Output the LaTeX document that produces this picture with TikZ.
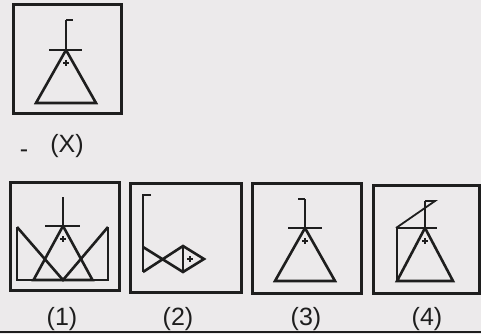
\documentclass[tikz,border=0pt]{standalone}
\usepackage{fontspec}
\setmainfont{Liberation Sans}
\usepackage{xcolor,tikz}
\definecolor{inkLine}{HTML}{1E1E1E}
\definecolor{paperBg}{HTML}{ECEAEB}
\tikzset{
  framebox/.style={draw=inkLine, line width=3pt},
  figline/.style={draw=inkLine, line width=2.6pt, line join=miter},
  stemline/.style={draw=inkLine, line width=1.8pt},
  plusline/.style={draw=inkLine, line width=1.3pt},
  optlabel/.style={font=\fontsize{25}{28}\selectfont, text=inkLine, inner sep=0pt}
}

\begin{document}
\begin{tikzpicture}[x=1pt, y=-1pt]

% --- CANVAS ---
\fill[paperBg] (0,0) rectangle (481,334);
\useasboundingbox (0,0) rectangle (481,334);

% --- FRAMES (x1/y1/x2/y2) ---
\foreach \xa/\ya/\xb/\yb in {13/5/121/113, 10/182/119/290, 130/183/241/292,
                             252/183/361/293, 373/185/479/293} {
  \draw[framebox] (\xa,\ya) rectangle (\xb,\yb);
}

% --- TRIANGLE + STEM + BAR (apex x/apex y/base y/half width/stem top/bar left/bar right) ---
\foreach \ax/\ay/\by/\hw/\st/\bl/\br in {66/50/103/30/20/49/82,
                                          63/226/280/29.5/197/45/80,
                                          305/228/281/30/199/288/322,
                                          425/228/281/28/201/397/437} {
  \draw[figline] (\ax,\ay) -- (\ax+\hw,\by) -- (\ax-\hw,\by) -- cycle;
  \draw[stemline] (\ax,\st) -- (\ax,\ay);
  \draw[stemline] (\bl,\ay) -- (\br,\ay);
  \draw[plusline] (\ax-3,\ay+13) -- (\ax+3,\ay+13) (\ax,\ay+10) -- (\ax,\ay+16);
}

% --- (X) tick ---
\draw[stemline] (66,20) -- (73,20);

% --- (1) crown ---
\draw[figline] (17,227) -- (17,280) -- (108,280) -- (108,227);
\draw[figline] (17,227) -- (63,280) -- (108,227);

% --- (2) fish ---
\draw[stemline] (151,195) -- (143,195) -- (143,272);
\draw[figline] (143,247) -- (183,272) -- (204,259) -- (183,246) -- (143,272);
\draw[stemline] (183,246) -- (183,272);
\draw[plusline] (187,259) -- (193,259) (190,256) -- (190,262);

% --- (3) tick ---
\draw[stemline] (305,199) -- (298,199);

% --- (4) flag + side ---
\draw[figline] (397,228) -- (397,281);
\draw[stemline] (425,201) -- (435,201) -- (396,228);

% --- LABELS ---
\node[optlabel] (labX) at (67,146) {(X)};
\node[optlabel] (dashX) at (24,154) {-};
\node[optlabel] (lab1) at (62,319) {(1)};
\node[optlabel] (lab2) at (178,319) {(2)};
\node[optlabel] (lab3) at (306,319) {(3)};
\node[optlabel] (lab4) at (427,319) {(4)};

% --- RULE ---
\draw[stemline] (0,332) -- (481,332);

\end{tikzpicture}
\end{document}
